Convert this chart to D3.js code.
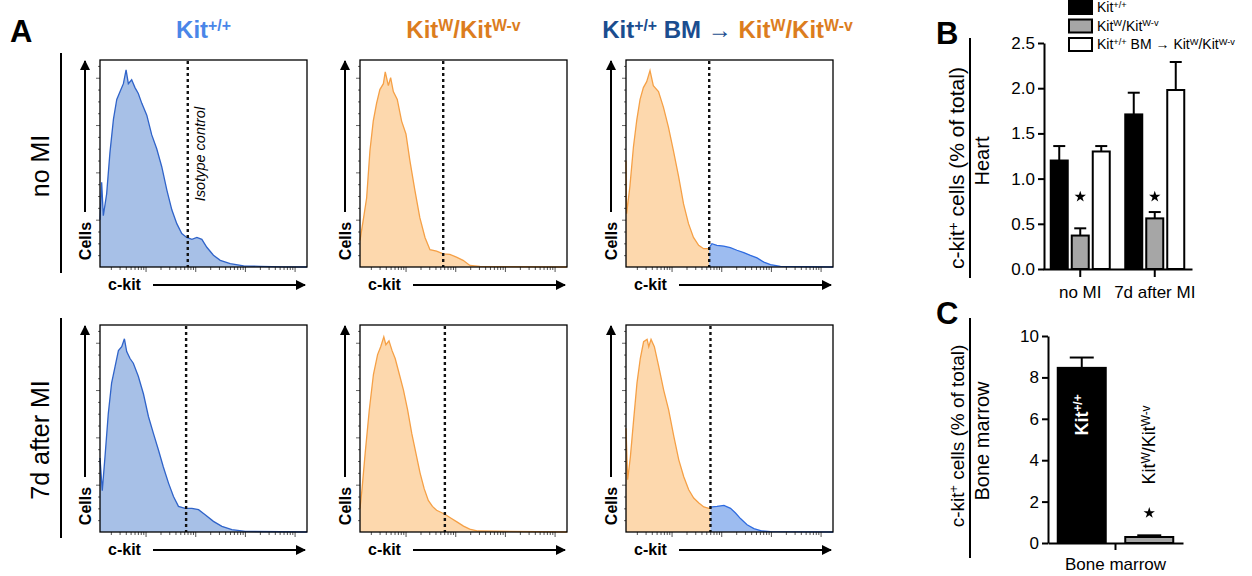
<!DOCTYPE html>
<html>
<head>
<meta charset="utf-8">
<script src="https://cdn.jsdelivr.net/npm/d3@7"></script>
<style>
  body { margin: 0; background: #fff; }
  svg { display: block; font-family: "Liberation Sans", Arial, Helvetica, sans-serif; }
</style>
</head>
<body>
<div id="fig"></div>
<script>

// ---- data ----
// histograms: [c-kit channel (0-1000, log display), cells (% of peak)]
var histWtNoMI = [[0,24],[8,43],[16,26],[32,37],[48,58],[65,75],[81,85],[97,89],[113,93],[126,100],[137,93],[153,95],[169,91],[185,88],[202,83],[226,77],[250,67],[274,60],[298,51],[323,39],[347,29],[371,22],[395,17],[419,15],[444,14],[468,15],[492,14],[516,10],[548,6],[581,3.4],[629,1.7],[694,0.6],[774,0.3],[887,0.1],[1000,0]];
var histMutNoMI = [[0,13.5],[16,24],[32,35],[48,59],[64,74],[80,83],[96,90],[113,93],[122,99],[137,92],[148,96],[161,89],[180,85],[201,74],[222,67.5],[241,54],[265,39],[289,25],[314,15],[338,8.8],[370,8],[402,6.7],[434,6.4],[466,5],[498,3.4],[531,0.8],[579,0.3],[1000,0]];
var histChiNoMI = [[0,54],[3,27],[19,41],[36,61],[52,74.5],[68,85],[84,91],[100,94],[116,99.6],[132,92],[157,89],[181,81],[205,71],[229,59],[254,46],[278,32],[302,22],[326,15],[351,11],[375,9.3],[399,9.3],[415,11.8],[439,11],[472,10.6],[504,9.8],[536,8.5],[569,7.3],[601,5.9],[633,4.6],[666,2.5],[698,1.2],[746,0.3],[1000,0]];
var histWt7d = [[0,37.5],[11,21],[24,38],[40,60],[56,75.5],[73,84],[89,92],[105,94],[118,98],[129,91.5],[145,88],[161,85.6],[185,79],[210,70],[234,58.6],[258,50],[282,41.7],[306,33],[331,24.8],[355,18],[379,13],[411,12],[444,12],[476,11.3],[508,8.8],[548,5.4],[589,2.9],[637,1.2],[702,0.3],[1000,0]];
var histMut7d = [[0,12],[10,22],[25,40],[45,62],[65,80],[85,90],[100,94],[115,99],[125,95],[140,97],[155,92],[170,88],[190,80],[210,72],[230,62],[250,50],[270,40],[290,30],[310,22],[330,16],[350,13],[370,11],[390,10],[410,9],[440,7],[470,5],[500,3],[530,1.5],[570,0.5],[1000,0]];
var histChi7d = [[0,52.6],[8,26.5],[21,38],[37,57],[53,75.5],[69,88],[85,96.5],[102,97.7],[110,94],[121,97.7],[137,94],[158,84],[182,72],[206,62],[231,48.5],[255,36.6],[279,28],[303,21.4],[327,17.2],[352,14.7],[376,12.7],[400,12],[416,12.7],[440,13],[473,13.5],[505,12],[529,9.6],[553,6.8],[585,3.7],[618,1.7],[658,0.5],[698,0.2],[1000,0]];

// isotype control gate (channel) per panel
var gateNoMI = [424, 402, 402];
var gate7d = [416, 410, 408];

var rowNames = ["no MI", "7d after MI"];
var cellTicks = [6, 12, 18, 24, 30, 36, 42, 48, 54, 60, 66, 72, 78, 84, 90, 96, 102];
var cellMajor = [24, 48, 72, 96];

// panel B: heart
var heartGroups = ["no MI", "7d after MI"];
var heartSeries = ["wt", "mut", "chi"];
var heartMean = [[1.20, 0.37, 1.30], [1.71, 0.56, 1.98]];
var heartSem = [[0.16, 0.08, 0.06], [0.24, 0.07, 0.31]];
var heartStarAt = [0.80, 0.80];
var heartTicks = [0.0, 0.5, 1.0, 1.5, 2.0, 2.5];

// panel C: bone marrow
var boneGroups = ["Bone marrow"];
var boneSeries = ["wt", "mut"];
var boneMean = [8.46, 0.29];
var boneSem = [0.50, 0.08];
var boneStarAt = 1.45;
var boneTicks = [0, 2, 4, 6, 8, 10];

// label pieces: [text, superscript?]
var WT = [["Kit"], ["+/+", 1]];
var MUT = [["Kit"], ["W", 1], ["/Kit"], ["W-v", 1]];

var seriesFill = { wt: "#000", mut: "#a6a6a6", chi: "#fff" };

// ---- drawing ----
var svg = d3.select("#fig").append("svg")
    .attr("width", 1252)
    .attr("height", 576);

svg.append("rect").attr("width", 1252).attr("height", 576).attr("fill", "#fff");

var defs = svg.append("defs");
defs.append("marker")
    .attr("id", "arr")
    .attr("viewBox", "0 0 10 10")
    .attr("refX", 9).attr("refY", 5)
    .attr("markerWidth", 5).attr("markerHeight", 5)
    .attr("markerUnits", "strokeWidth")
    .attr("orient", "auto")
    .append("path").attr("d", "M0,0 L10,5 L0,10 z").attr("fill", "#000");

// write text made of pieces, some raised as superscript
function rich(sel, parts, size, colors) {
    var up = 0;
    parts.forEach(function (p, i) {
        var sup = !!p[1];
        var target = sup ? -size * 0.3 : 0;
        var t = sel.append("tspan")
            .attr("dy", target - up)
            .attr("font-size", sup ? size * 0.66 : size)
            .text(p[0]);
        if (colors) t.attr("fill", colors[i]);
        up = target;
    });
}

// panel letters
[["A", 10, 42], ["B", 936, 44], ["C", 936, 324]].forEach(function (d) {
    svg.append("text").attr("x", d[1]).attr("y", d[2])
        .attr("font-size", 31).attr("font-weight", "bold").text(d[0]);
});

var W = 207, H = 207;
var colX = [100, 360, 626];
var rowY = [60, 325];

// column titles
var blue = "#4a86e8", orange = "#dc7d1e", navy = "#1b4d8f";
rich(svg.append("text").attr("x", colX[0] + W / 2).attr("y", 38).attr("text-anchor", "middle")
    .attr("font-weight", "bold").attr("fill", blue), WT, 24);
rich(svg.append("text").attr("x", colX[1] + W / 2).attr("y", 38).attr("text-anchor", "middle")
    .attr("font-weight", "bold").attr("fill", orange), MUT, 24);
rich(svg.append("text").attr("x", colX[2] + W / 2 - 2).attr("y", 38).attr("text-anchor", "middle")
    .attr("font-weight", "bold"),
    WT.concat([[" BM → "]]).concat(MUT), 24,
    [navy, navy, navy, orange, orange, orange, orange]);

// row labels with bracket line
rowNames.forEach(function (name, r) {
    var y0 = rowY[r];
    svg.append("line").attr("x1", 61).attr("x2", 61)
        .attr("y1", y0 - 7).attr("y2", y0 + H + 6)
        .attr("stroke", "#000").attr("stroke-width", 2);
    svg.append("text")
        .attr("transform", "translate(49," + (y0 + 106 + (r == 0 ? 0 : 9)) + ") rotate(-90)")
        .attr("text-anchor", "middle")
        .attr("font-size", 25)
        .text(name);
});

var x = d3.scaleLinear().domain([0, 1000]).range([0, W]);
var xLog = d3.scaleLog().domain([1.21, 17783]).range([0, W]);
var y = d3.scaleLinear().domain([0, 105]).range([H, 0]);

var area = d3.area().x(function (d) { return x(d[0]); }).y0(H).y1(function (d) { return y(d[1]); });
var line = d3.line().x(function (d) { return x(d[0]); }).y(function (d) { return y(d[1]); });

var style = {
    blue: { fill: "#a7c0e7", stroke: "#2f63c9" },
    orange: { fill: "#fdd8ad", stroke: "#f5a046" },
    chiBlue: { fill: "#9dbcf0", stroke: "#2e6be0" }
};

var panels = [
    [histWtNoMI, histMutNoMI, histChiNoMI],
    [histWt7d, histMut7d, histChi7d]
];
var gates = [gateNoMI, gate7d];

panels.forEach(function (row, r) {
    row.forEach(function (data, c) {
        var g = svg.append("g").attr("transform", "translate(" + colX[c] + "," + rowY[r] + ")");
        var gate = gates[r][c];

        if (c < 2) {
            var s = c == 0 ? style.blue : style.orange;
            g.append("path").datum(data).attr("d", area).attr("fill", s.fill);
            g.append("path").datum(data).attr("d", line).attr("fill", "none")
                .attr("stroke", s.stroke).attr("stroke-width", 1.3);
        } else {
            // chimera: host cells below gate, donor cells above gate
            var idL = "cl" + r, idR = "cr" + r;
            defs.append("clipPath").attr("id", idL).append("rect")
                .attr("x", -2).attr("y", -2).attr("width", x(gate) + 2).attr("height", H + 4);
            defs.append("clipPath").attr("id", idR).append("rect")
                .attr("x", x(gate)).attr("y", -2).attr("width", W - x(gate) + 2).attr("height", H + 4);
            [[idL, style.orange], [idR, style.chiBlue]].forEach(function (p) {
                var cg = g.append("g").attr("clip-path", "url(#" + p[0] + ")");
                cg.append("path").datum(data).attr("d", area).attr("fill", p[1].fill);
                cg.append("path").datum(data).attr("d", line).attr("fill", "none")
                    .attr("stroke", p[1].stroke).attr("stroke-width", 1.3);
            });
        }

        // isotype control line
        g.append("line").attr("x1", x(gate)).attr("x2", x(gate))
            .attr("y1", 1).attr("y2", H)
            .attr("stroke", "#111").attr("stroke-width", 2.4)
            .attr("stroke-dasharray", "3,3");
        if (r == 0 && c == 0) {
            g.append("text")
                .attr("transform", "translate(" + (x(gate) + 17) + ",94) rotate(-90)")
                .attr("text-anchor", "middle")
                .attr("font-size", 14.5).attr("font-style", "italic")
                .text("Isotype control");
        }

        // log axis ticks
        var xa = g.append("g").attr("transform", "translate(0," + H + ")")
            .call(d3.axisBottom(xLog).tickFormat("").tickSize(3).tickSizeOuter(0));
        xa.select(".domain").remove();
        xa.selectAll(".tick line")
            .attr("stroke", "#555")
            .attr("y2", function (d) {
                var l = Math.log10(d);
                return Math.abs(l - Math.round(l)) < 1e-9 ? 5 : 3;
            });

        var ya = g.append("g")
            .call(d3.axisLeft(y).tickValues(cellTicks).tickFormat("").tickSize(2).tickSizeOuter(0));
        ya.select(".domain").remove();
        ya.selectAll(".tick line").attr("stroke", "#666")
            .attr("x2", function (d) { return cellMajor.indexOf(d) >= 0 ? -4 : -2; });

        g.append("rect").attr("width", W).attr("height", H)
            .attr("fill", "none").attr("stroke", "#000").attr("stroke-width", 1.3);

        // axis arrows and names
        g.append("line").attr("x1", -15).attr("x2", -15).attr("y1", 152).attr("y2", 1)
            .attr("stroke", "#000").attr("stroke-width", 2).attr("marker-end", "url(#arr)");
        g.append("text")
            .attr("transform", "translate(-9,181) rotate(-90)")
            .attr("text-anchor", "middle")
            .attr("font-size", 16).attr("font-weight", "bold")
            .text("Cells");
        g.append("text").attr("x", 8).attr("y", H + 23)
            .attr("font-size", 16).attr("font-weight", "bold")
            .text("c-kit");
        g.append("line").attr("x1", 53).attr("x2", 205).attr("y1", H + 18).attr("y2", H + 18)
            .attr("stroke", "#000").attr("stroke-width", 2).attr("marker-end", "url(#arr)");
    });
});

// ---- panel B: heart bar chart ----
var yB = d3.scaleLinear().domain([0, 2.5]).range([269, 43]);
var xB = d3.scaleBand().domain(heartGroups).range([1043, 1192]);
var xBs = d3.scaleBand().domain(heartSeries).range([-31.5, 31.5]);

var bAxisY = svg.append("g").attr("transform", "translate(1044,0)")
    .call(d3.axisLeft(yB).tickValues(heartTicks).tickFormat(d3.format(".1f"))
        .tickSize(6).tickPadding(3).tickSizeOuter(0));
var bAxisX = svg.append("g").attr("transform", "translate(0,269)")
    .call(d3.axisBottom(xB).tickSize(8).tickPadding(9).tickSizeOuter(0));
[bAxisY, bAxisX].forEach(function (a) {
    a.selectAll("text").attr("font-size", 17).attr("fill", "#000")
        .attr("font-family", "Liberation Sans, Arial, sans-serif");
    a.selectAll("path, line").attr("stroke", "#000").attr("stroke-width", 2);
});

heartGroups.forEach(function (grp, gi) {
    heartSeries.forEach(function (s, si) {
        var cx = xB(grp) + xB.bandwidth() / 2 + xBs(s) + xBs.bandwidth() / 2;
        var top = yB(heartMean[gi][si]), errTop = yB(heartMean[gi][si] + heartSem[gi][si]);
        svg.append("line").attr("x1", cx).attr("x2", cx).attr("y1", top).attr("y2", errTop)
            .attr("stroke", "#000").attr("stroke-width", 2);
        svg.append("line").attr("x1", cx - 6).attr("x2", cx + 6).attr("y1", errTop).attr("y2", errTop)
            .attr("stroke", "#000").attr("stroke-width", 2);
        svg.append("rect").attr("x", cx - 8.5).attr("y", top)
            .attr("width", 17).attr("height", yB(0) - top)
            .attr("fill", seriesFill[s]).attr("stroke", "#000").attr("stroke-width", 2);
    });
    var sx = xB(grp) + xB.bandwidth() / 2 + xBs("mut") + xBs.bandwidth() / 2;
    svg.append("path")
        .attr("transform", "translate(" + sx + "," + yB(heartStarAt[gi]) + ")")
        .attr("d", d3.symbol().type(d3.symbolStar).size(40)())
        .attr("fill", "#000");
});

// legend
var legendLabels = [WT, MUT, WT.concat([[" BM → "]]).concat(MUT)];
heartSeries.forEach(function (s, i) {
    var ly = 7.5 + i * 18.5;
    svg.append("rect").attr("x", 1069).attr("y", ly - 6.5).attr("width", 23).attr("height", 13)
        .attr("fill", seriesFill[s]).attr("stroke", "#000").attr("stroke-width", 2);
    rich(svg.append("text").attr("x", 1097).attr("y", ly + 4.5), legendLabels[i], 14);
});

// y label and bracket for B
svg.append("text").attr("transform", "translate(964,168) rotate(-90)")
    .attr("text-anchor", "middle").attr("font-size", 21)
    .call(function (t) { rich(t, [["c-kit"], ["+", 1], [" cells (% of total)"]], 21); });
svg.append("line").attr("x1", 970).attr("x2", 970).attr("y1", 38).attr("y2", 278)
    .attr("stroke", "#000").attr("stroke-width", 2);
svg.append("text").attr("transform", "translate(989,161) rotate(-90)")
    .attr("text-anchor", "middle").attr("font-size", 20).text("Heart");

// ---- panel C: bone marrow bar chart ----
var yC = d3.scaleLinear().domain([0, 10]).range([543, 336]);
var xC = d3.scaleBand().domain(boneGroups).range([1048, 1183]);
var xCs = d3.scaleBand().domain(boneSeries).range([-67.5, 67.5]);

var cAxisY = svg.append("g").attr("transform", "translate(1048,0)")
    .call(d3.axisLeft(yC).tickValues(boneTicks).tickSize(6).tickPadding(3).tickSizeOuter(0));
var cAxisX = svg.append("g").attr("transform", "translate(0,543)")
    .call(d3.axisBottom(xC).tickSize(7).tickPadding(8).tickSizeOuter(0));
[cAxisY, cAxisX].forEach(function (a) {
    a.selectAll("text").attr("font-size", 17).attr("fill", "#000")
        .attr("font-family", "Liberation Sans, Arial, sans-serif");
    a.selectAll("path, line").attr("stroke", "#000").attr("stroke-width", 2);
});

var boneLabels = [WT, MUT];
boneSeries.forEach(function (s, si) {
    var cx = xC("Bone marrow") + xC.bandwidth() / 2 + xCs(s) + xCs.bandwidth() / 2;
    var top = yC(boneMean[si]), errTop = yC(boneMean[si] + boneSem[si]);
    svg.append("line").attr("x1", cx).attr("x2", cx).attr("y1", top).attr("y2", errTop)
        .attr("stroke", "#000").attr("stroke-width", 2);
    svg.append("line").attr("x1", cx - 12).attr("x2", cx + 12).attr("y1", errTop).attr("y2", errTop)
        .attr("stroke", "#000").attr("stroke-width", 2);
    svg.append("rect").attr("x", cx - 24).attr("y", top)
        .attr("width", 48).attr("height", yC(0) - top)
        .attr("fill", seriesFill[s]).attr("stroke", "#000").attr("stroke-width", 2);
    var inside = si == 0;
    var lbl = svg.append("text")
        .attr("transform", "translate(" + (cx + 6) + "," + (inside ? 415 : 445) + ") rotate(-90)")
        .attr("text-anchor", "middle")
        .attr("fill", inside ? "#fff" : "#000")
        .attr("font-weight", inside ? "bold" : "normal");
    rich(lbl, boneLabels[si], 18);
    if (s == "mut") {
        svg.append("path")
            .attr("transform", "translate(" + cx + "," + yC(boneStarAt) + ")")
            .attr("d", d3.symbol().type(d3.symbolStar).size(40)())
            .attr("fill", "#000");
    }
});

svg.append("text").attr("transform", "translate(964,436) rotate(-90)")
    .attr("text-anchor", "middle").attr("font-size", 19)
    .call(function (t) { rich(t, [["c-kit"], ["+", 1], [" cells (% of total)"]], 19); });
svg.append("line").attr("x1", 970).attr("x2", 970).attr("y1", 318).attr("y2", 558)
    .attr("stroke", "#000").attr("stroke-width", 2);
svg.append("text").attr("transform", "translate(989,441) rotate(-90)")
    .attr("text-anchor", "middle").attr("font-size", 20).text("Bone marrow");

</script>
</body>
</html>
